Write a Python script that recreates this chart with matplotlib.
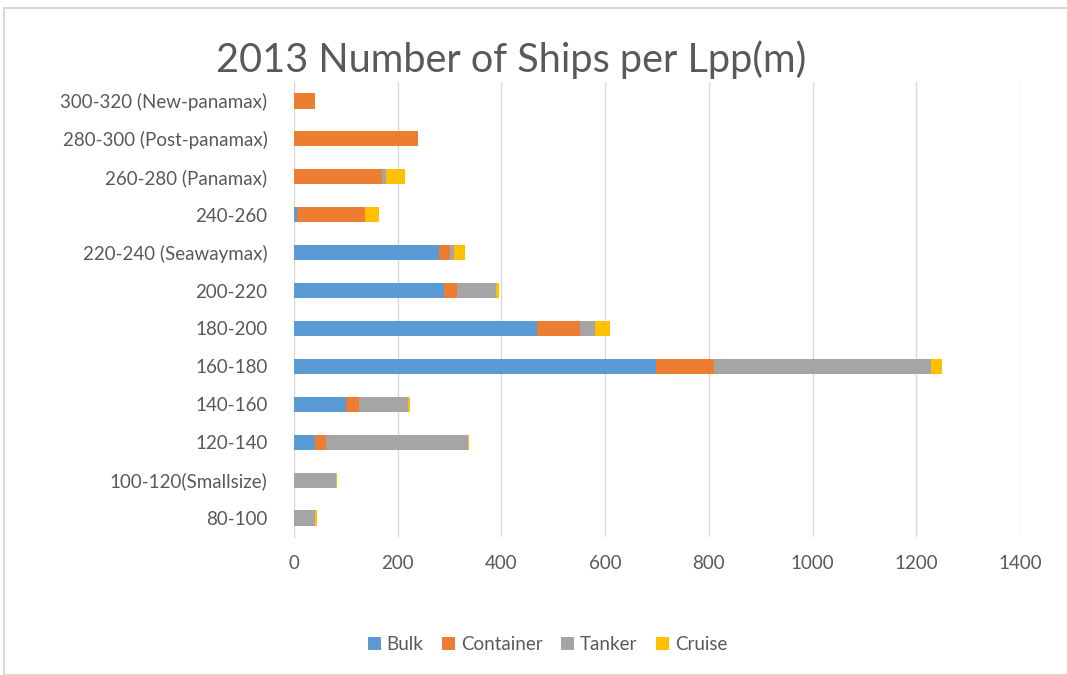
import matplotlib.pyplot as plt
from matplotlib.patches import Rectangle
import numpy as np

plt.rcParams['font.family'] = ['Lato', 'DejaVu Sans']

# ship length classes, bottom to top
classes = ['80-100', '100-120(Smallsize)', '120-140', '140-160', '160-180',
           '180-200', '200-220', '220-240 (Seawaymax)', '240-260',
           '260-280 (Panamax)', '280-300 (Post-panamax)', '300-320 (New-panamax)']

bulk = [0, 0, 41, 101, 699, 469, 289, 280, 6, 0, 0, 0]
container = [0, 0, 20, 24, 110, 82, 26, 21, 130, 170, 240, 40]
tanker = [41, 81, 275, 95, 419, 29, 74, 8, 0, 7, 0, 0]
cruise = [4, 2, 2, 4, 22, 30, 6, 20, 28, 37, 0, 0]

series = [('Bulk', bulk, '#5B9BD5'),
          ('Container', container, '#ED7D31'),
          ('Tanker', tanker, '#A5A5A5'),
          ('Cruise', cruise, '#FFC000')]

fig = plt.figure(figsize=(10.67, 6.75), dpi=100)
ax = fig.add_axes([294 / 1067, 1 - 537 / 675, (1020 - 294) / 1067, (537 - 82) / 675])

y = np.arange(len(classes))
left = np.zeros(len(classes))
for name, vals, col in series:
    ax.barh(y, vals, left=left, height=0.4, color=col, label=name, zorder=3)
    left += np.array(vals)

ax.set_xlim(0, 1400)
ax.set_ylim(-0.5, len(classes) - 0.5)
ax.set_xticks(range(0, 1401, 200))
ax.set_yticks(y)
ax.set_yticklabels(classes)
ax.grid(axis='x', color='#d9d9d9', linewidth=1, zorder=0)
for s in ['top', 'right', 'bottom']:
    ax.spines[s].set_visible(False)
ax.spines['left'].set_color('#d9d9d9')
ax.tick_params(axis='both', length=0, labelsize=13.5, labelcolor='#595959')
ax.tick_params(axis='x', pad=13)
ax.tick_params(axis='y', pad=19)

fig.text(0.479, 0.912, '2013 Number of Ships per Lpp(m)', ha='center', va='center',
         fontsize=28.5, color='#595959')

fig.legend(loc='center', bbox_to_anchor=(0.513, 0.045), ncol=4, frameon=False,
           fontsize=13.5, labelcolor='#595959', handlelength=0.7, handleheight=0.7,
           handletextpad=0.3, columnspacing=1.0)

# light frame around the chart area
fig.patches.append(Rectangle((4 / 1067, 0), 1.1, 1 - 8 / 675, transform=fig.transFigure,
                             fill=False, edgecolor='#d9d9d9', linewidth=1.5))

fig.savefig('out.png', dpi=100)
